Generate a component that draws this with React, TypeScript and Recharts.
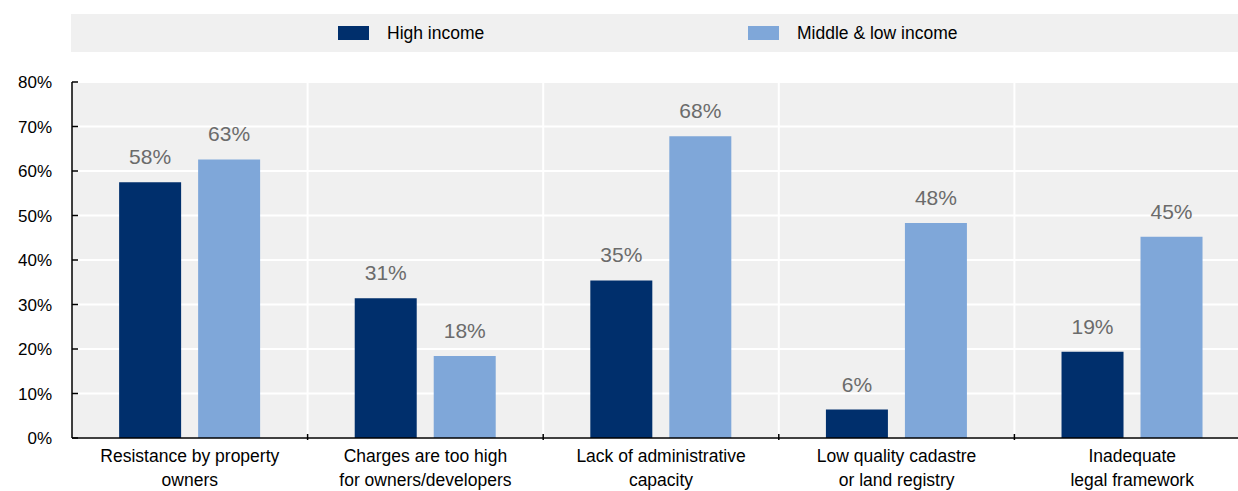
import React from "react";
import { BarChart, Bar, XAxis, YAxis, CartesianGrid, LabelList } from "recharts";

const categories = [
  "Resistance by property\nowners",
  "Charges are too high\nfor owners/developers",
  "Lack of administrative\ncapacity",
  "Low quality cadastre\nor land registry",
  "Inadequate\nlegal framework",
];
const highIncome = [57.5, 31.4, 35.4, 6.4, 19.4];
const middleLowIncome = [62.6, 18.4, 67.8, 48.3, 45.2];
const yTicks = [0, 10, 20, 30, 40, 50, 60, 70, 80];
const separators = [1, 2, 3, 4];

const data = categories.map((name, i) => ({
  name,
  high: highIncome[i],
  mid: middleLowIncome[i],
}));

const FONT = "'Liberation Sans', Arial, sans-serif";
const DARK = "#002f6c";
const LIGHT = "#7fa7d9";
const CHART_W = 1250;
const Y_AXIS_W = 72;
const STEP = (CHART_W - Y_AXIS_W) / categories.length;

function CategoryTick({ x, y, payload, index }: any) {
  const lines = String(payload.value).split("\n");
  return (
    <g>
      {index > 0 && (
        <line x1={x - STEP / 2} x2={x - STEP / 2} y1={y} y2={y - 6} stroke="#000" strokeWidth={1.5} />
      )}
      <text x={x} y={y + 22} textAnchor="middle" fontSize={17.5} fill="#000" fontFamily={FONT}>
        {lines.map((l, i) => (
          <tspan key={i} x={x} dy={i === 0 ? 0 : 24}>
            {l}
          </tspan>
        ))}
      </text>
    </g>
  );
}

function LegendItem({ left, color, label }: { left: number; color: string; label: string }) {
  return (
    <div style={{ position: "absolute", left, top: 0, height: 38, display: "flex", alignItems: "center" }}>
      <div style={{ width: 31, height: 14, background: color }} />
      <span style={{ marginLeft: 18, fontSize: 17.5, color: "#000", fontFamily: FONT }}>{label}</span>
    </div>
  );
}

export default function App() {
  return (
    <div style={{ position: "absolute", left: 0, top: 0, width: 1238, height: 491, overflow: "hidden", background: "#fff" }}>
      <div style={{ position: "absolute", left: 71, top: 14, width: 1167, height: 38, background: "#f0f0f0" }}>
        <LegendItem left={267} color={DARK} label="High income" />
        <LegendItem left={677} color={LIGHT} label="Middle & low income" />
      </div>
      <div style={{ position: "absolute", left: 0, top: 0 }}>
        <BarChart
          width={CHART_W}
          height={491}
          data={data}
          margin={{ top: 82, right: 0, bottom: 0, left: 0 }}
          barCategoryGap="20%"
          barGap={17}
        >
          <CartesianGrid
            fill="#f0f0f0"
            stroke="#ffffff"
            strokeWidth={2}
            verticalCoordinatesGenerator={({ offset }: any) =>
              separators.map((s) => offset.left + (offset.width * s) / categories.length)
            }
          />
          <XAxis
            dataKey="name"
            height={53}
            interval={0}
            tickLine={false}
            tickSize={0}
            axisLine={{ stroke: "#000", strokeWidth: 1.5 }}
            tick={<CategoryTick />}
          />
          <YAxis
            width={Y_AXIS_W}
            domain={[0, 80]}
            ticks={yTicks}
            interval={0}
            tickFormatter={(v) => `${v}%`}
            tickSize={-6}
            tickMargin={26}
            axisLine={{ stroke: "#000", strokeWidth: 1.5 }}
            tickLine={{ stroke: "#000", strokeWidth: 1.5 }}
            tick={{ fontSize: 17, fill: "#000", fontFamily: FONT }}
          />
          <Bar dataKey="high" fill={DARK} isAnimationActive={false}>
            <LabelList
              dataKey="high"
              position="top"
              offset={18}
              formatter={(v: any) => `${Math.round(v)}%`}
              style={{ fontSize: 21, fill: "#6b6b6b", fontFamily: FONT }}
            />
          </Bar>
          <Bar dataKey="mid" fill={LIGHT} isAnimationActive={false}>
            <LabelList
              dataKey="mid"
              position="top"
              offset={18}
              formatter={(v: any) => `${Math.round(v)}%`}
              style={{ fontSize: 21, fill: "#6b6b6b", fontFamily: FONT }}
            />
          </Bar>
        </BarChart>
      </div>
    </div>
  );
}
